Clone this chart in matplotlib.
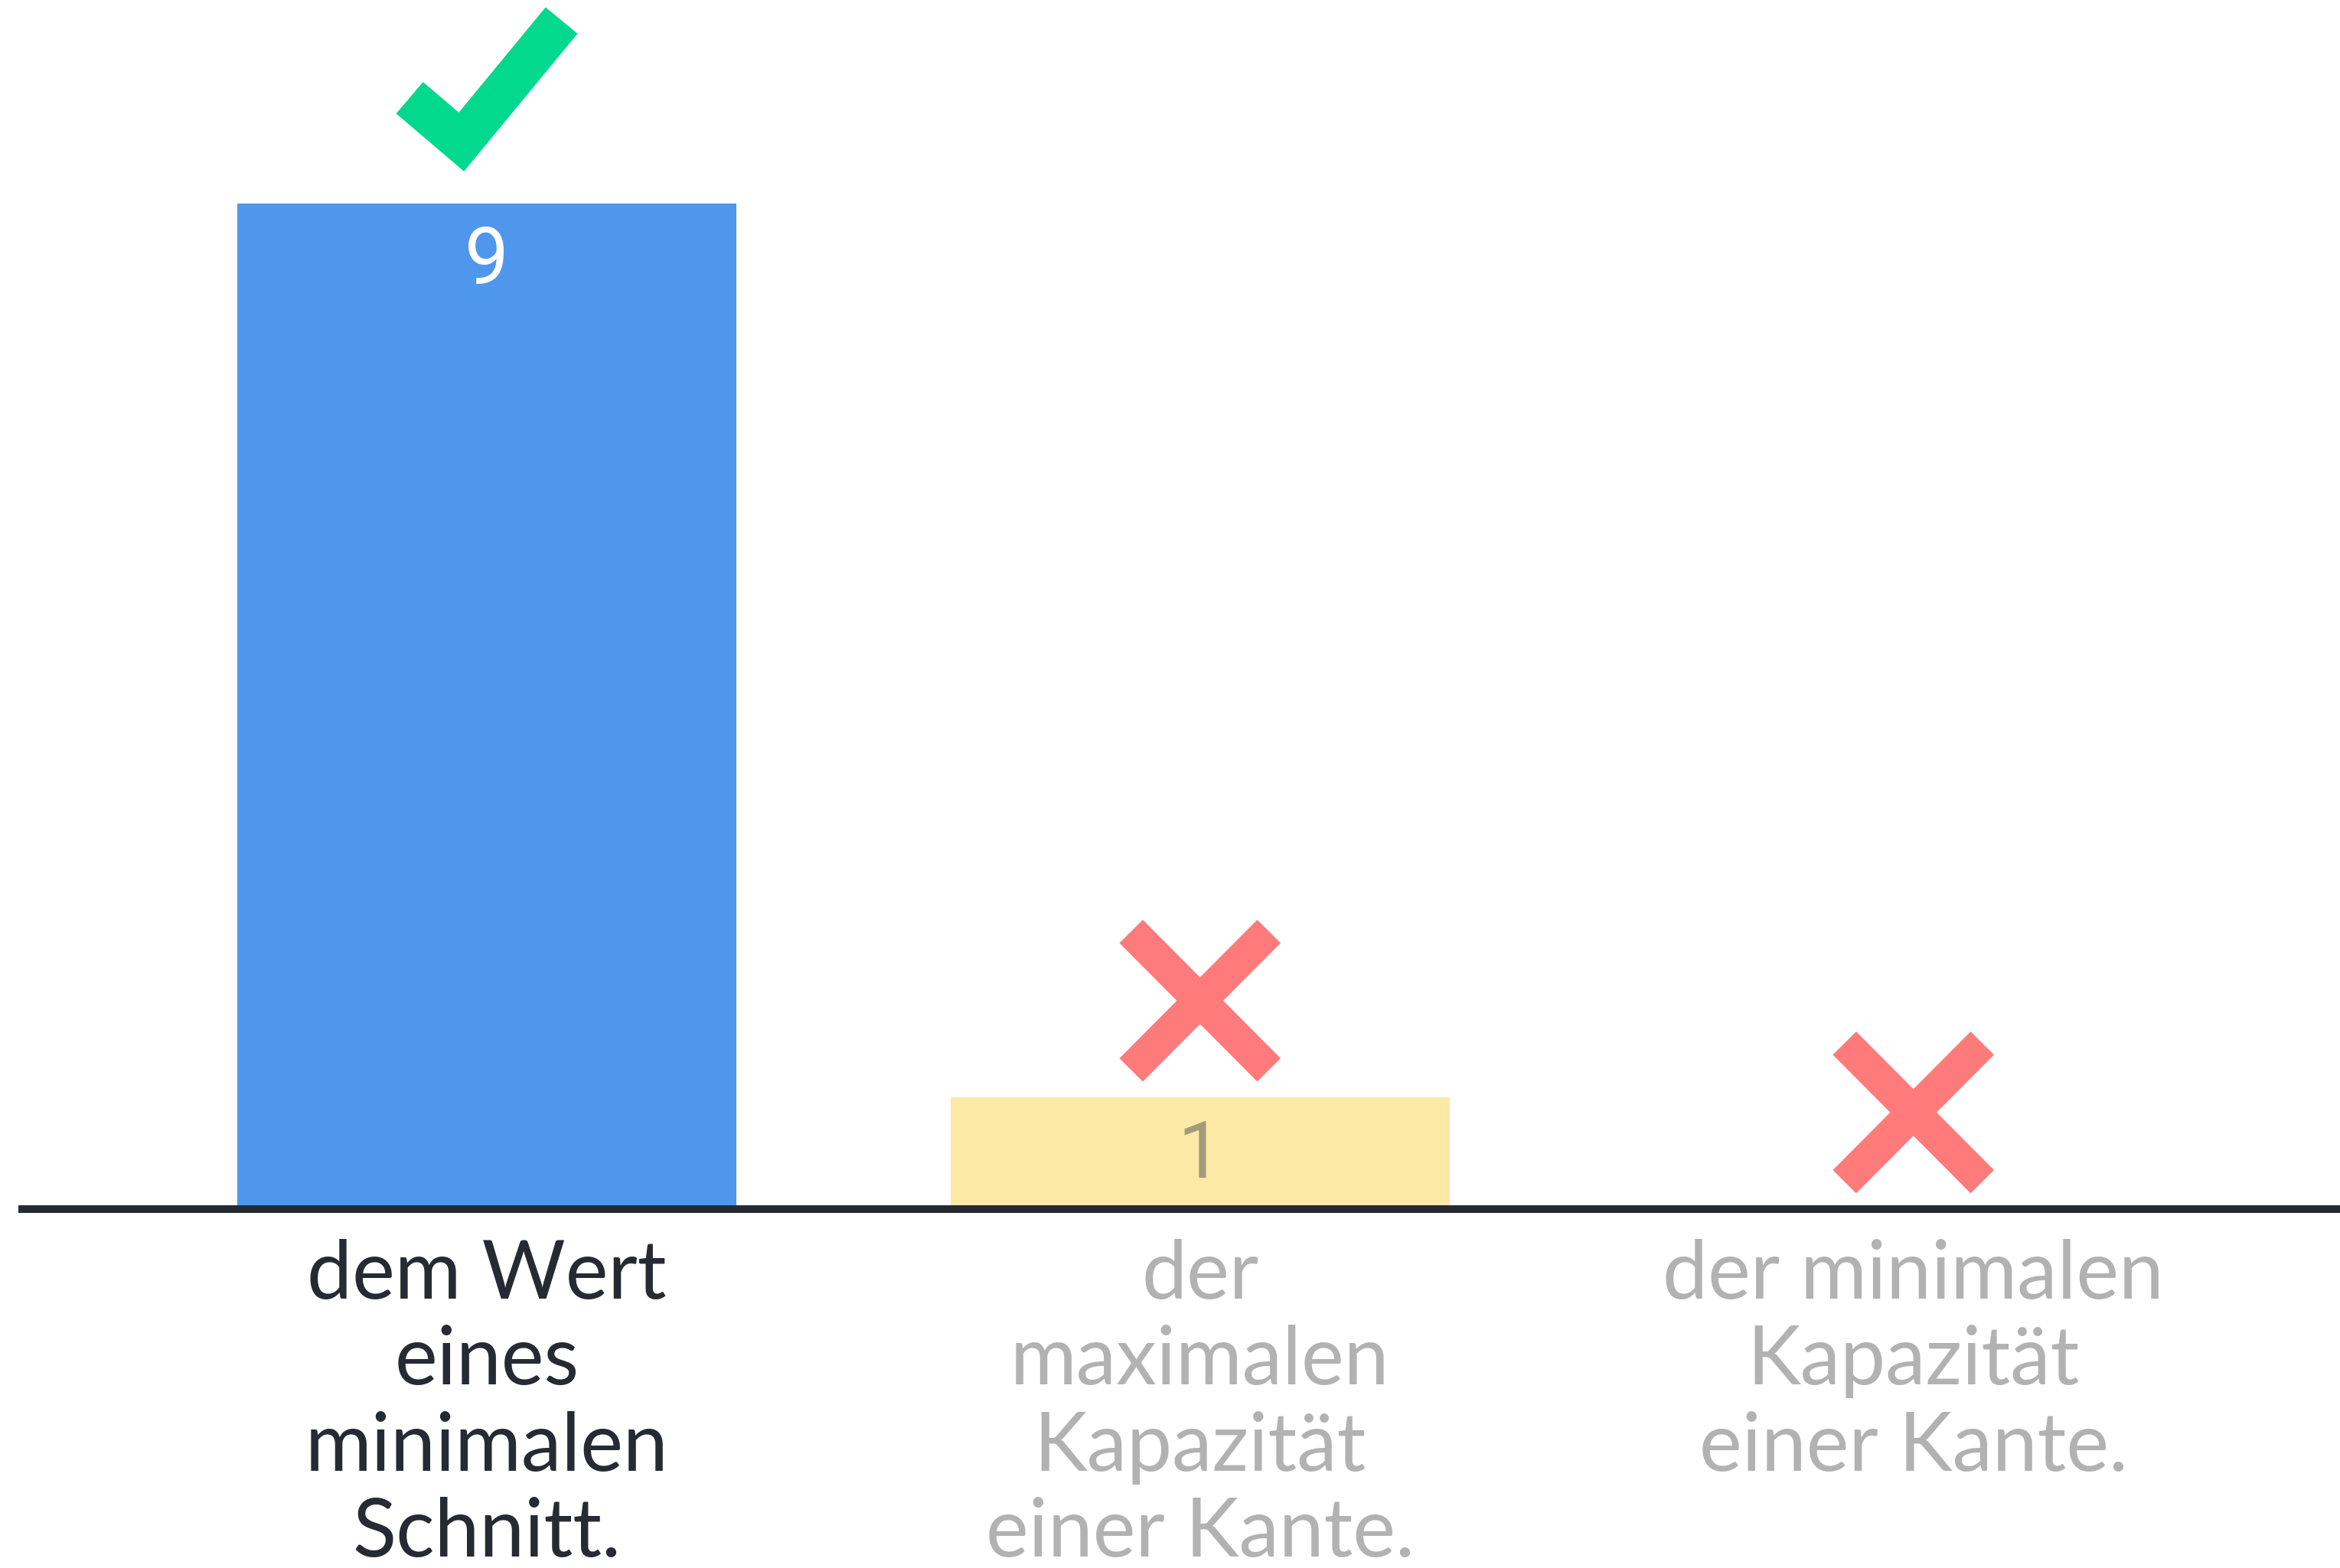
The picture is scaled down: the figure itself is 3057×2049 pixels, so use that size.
import numpy as np
import matplotlib.pyplot as plt

categories = ['dem Wert\neines\nminimalen\nSchnitt.',
              'der\nmaximalen\nKapazität\neiner Kante.',
              'der minimalen\nKapazität\neiner Kante.']
values = [9, 1, 0]
value_labels = ['9', '1', '']
correct = [True, False, False]

bar_colors = ['#4F97EC', '#FDE9A6', '#FDE9A6']
label_colors = ['#262A33', '#B2B2B2', '#B2B2B2']
value_colors = ['white', '#A39C7C', 'white']

plt.rcParams['font.family'] = ['Lato', 'DejaVu Sans']

fig = plt.figure(figsize=(30.57, 20.49), dpi=100)
ax = fig.add_axes([0.0095, 0.2289, 0.9905, 0.7711])

x = np.arange(len(values))
ax.bar(x, values, width=0.70, color=bar_colors, zorder=1)

for i, v in enumerate(values):
    if value_labels[i]:
        ax.annotate(value_labels[i], (i, v), xytext=(0, -55), textcoords='offset points',
                    ha='center', va='center', fontsize=74, family=['Roboto', 'DejaVu Sans'],
                    color=value_colors[i])
    if correct[i]:
        # check mark above the bar
        ax.plot(i + np.array([-0.108, -0.0354, 0.105]), v + np.array([0.945, 0.55, 1.637]),
                color='#03D88F', lw=39, solid_joinstyle='miter', solid_capstyle='butt',
                clip_on=False, zorder=3)
    else:
        cy = v + 0.865
        dx, dy = 0.0966, 0.62
        ax.plot([i - dx, i + dx], [cy - dy, cy + dy], color='#FF7B7B', lw=31,
                solid_capstyle='butt', clip_on=False, zorder=3)
        ax.plot([i - dx, i + dx], [cy + dy, cy - dy], color='#FF7B7B', lw=31,
                solid_capstyle='butt', clip_on=False, zorder=3)

ax.set_xlim(-0.651, 2.598)
ax.set_ylim(0, 10.82)

ax.set_xticks(x)
ax.set_xticklabels(categories, fontsize=76, linespacing=1.21)
for lbl, c in zip(ax.get_xticklabels(), label_colors):
    lbl.set_color(c)
ax.tick_params(axis='x', length=0, pad=28)
ax.set_yticks([])

for s in ['top', 'left', 'right']:
    ax.spines[s].set_visible(False)
ax.spines['bottom'].set_linewidth(7.2)
ax.spines['bottom'].set_color('#262A33')

fig.savefig('out.png', dpi=100, facecolor='white')
